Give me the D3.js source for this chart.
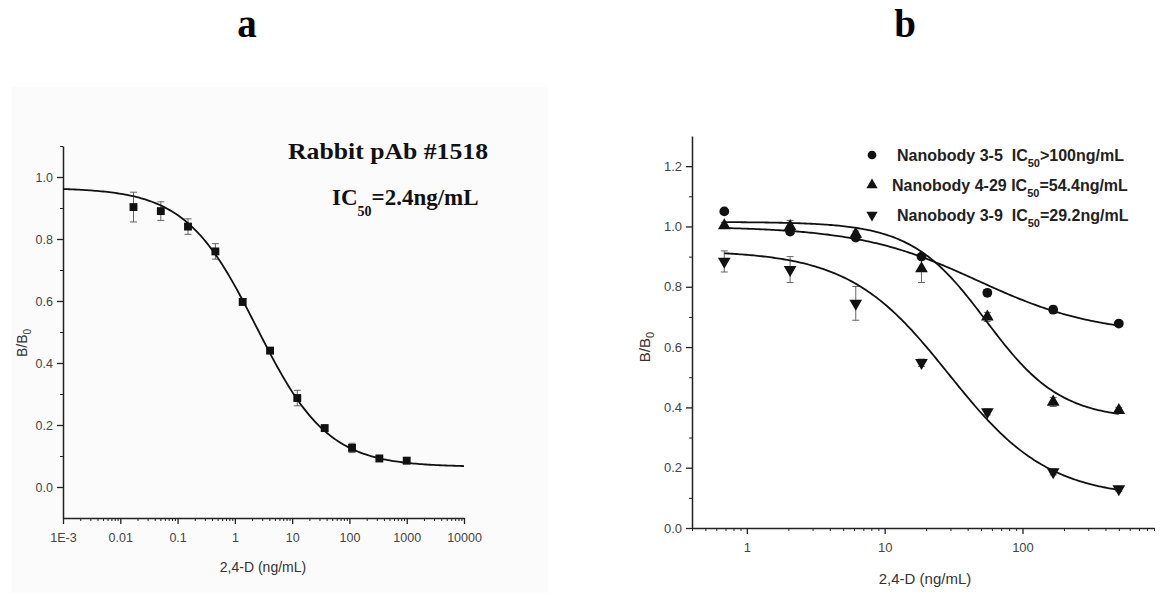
<!DOCTYPE html>
<html lang="en">
<head>
<meta charset="UTF-8">
<title>2,4-D competitive ELISA curves</title>
<script src="https://d3js.org/d3.v7.min.js"></script>
<style>
  body { margin: 0; background: #fff; }
  svg { display: block; }
  .tick text { font-family: "Liberation Sans", Arial, sans-serif; fill: #444; }
  .domain, .tick line { stroke: #222; }
</style>
</head>
<body>
<script>
// ---- panel a: rabbit pAb #1518 ----
const concA = [0.017, 0.051, 0.152, 0.457, 1.37, 4.12, 12.3, 37, 111, 333, 1000];
const valA  = [0.903, 0.89, 0.84, 0.76, 0.597, 0.44, 0.287, 0.19, 0.126, 0.092, 0.085];
const errA  = [0.048, 0.03, 0.025, 0.025, 0.01, 0.01, 0.025, 0.01, 0.015, 0.01, 0.01];
// 4PL fit: top, bottom, IC50, hill
const fitA  = [0.965, 0.065, 2.4, 0.7];
const xTicksA = [1e-3, 0.01, 0.1, 1, 10, 100, 1000, 10000];
const xLabelsA = ["1E-3", "0.01", "0.1", "1", "10", "100", "1000", "10000"];
const yTicksA = [0, 0.2, 0.4, 0.6, 0.8, 1.0];

// ---- panel b: nanobodies ----
const concB  = [0.686, 2.06, 6.17, 18.5, 55.6, 167, 500];
const nb35   = [1.05, 0.983, 0.963, 0.90, 0.78, 0.724, 0.678];
const nb35e  = [0.005, 0.01, 0.01, 0.01, 0.01, 0.012, 0.008];
const nb429  = [1.003, 1.0, 0.975, 0.86, 0.70, 0.418, 0.39];
const nb429e = [0.01, 0.02, 0.01, 0.046, 0.015, 0.015, 0.01];
const nb39   = [0.884, 0.857, 0.745, 0.548, 0.385, 0.186, 0.13];
const nb39e  = [0.035, 0.043, 0.056, 0.012, 0.01, 0.01, 0.008];
const fit35  = [1.0, 0.64, 47.5, 1.0];
const fit429 = [1.015, 0.36, 54.4, 1.6];
const fit39  = [0.92, 0.1, 29.2, 1.2];
const namesB = ["Nanobody 3-5  ", "Nanobody 4-29 ", "Nanobody 3-9  "];
const icB    = [">100ng/mL", "=54.4ng/mL", "=29.2ng/mL"];
const xTicksB = [1, 10, 100];
const yTicksB = [0, 0.2, 0.4, 0.6, 0.8, 1.0, 1.2];

const W = 1160, H = 595;
const svg = d3.select("body").append("svg").attr("width", W).attr("height", H);

// faint backdrop of panel a (scanned figure)
svg.append("rect").attr("x", 11).attr("y", 87).attr("width", 537).attr("height", 506).attr("fill", "#fbfbfb");

const logistic = p => x => p[1] + (p[0] - p[1]) / (1 + Math.pow(x / p[2], p[3]));

function minorLog(lo, hi) {
  const out = [];
  for (let e = Math.floor(Math.log10(lo)); e <= Math.ceil(Math.log10(hi)); e++) {
    for (let m = 2; m <= 9; m++) {
      const v = m * Math.pow(10, e);
      if (v >= lo * 0.999 && v <= hi * 1.001) out.push(v);
    }
  }
  return out;
}

function drawAxes(g, x, y, xMajor, xFmt, yMajor, yMinor, fs) {
  const [x0, x1] = x.range();
  const yBase = y.range()[0];
  // minor ticks first
  g.append("g").attr("transform", `translate(0,${yBase})`)
    .call(d3.axisBottom(x).tickValues(minorLog(...x.domain())).tickFormat("").tickSize(3).tickSizeOuter(0))
    .call(a => a.select(".domain").remove());
  g.append("g").attr("transform", `translate(${x0},0)`)
    .call(d3.axisLeft(y).tickValues(yMinor).tickFormat("").tickSize(3).tickSizeOuter(0))
    .call(a => a.select(".domain").remove());
  const xa = g.append("g").attr("transform", `translate(0,${yBase})`)
    .call(d3.axisBottom(x).tickValues(xMajor).tickFormat(xFmt).tickSize(6).tickSizeOuter(0).tickPadding(9));
  const ya = g.append("g").attr("transform", `translate(${x0},0)`)
    .call(d3.axisLeft(y).tickValues(yMajor).tickFormat(d3.format(".1f")).tickSize(6).tickSizeOuter(0).tickPadding(4));
  [xa, ya].forEach(a => {
    a.selectAll(".tick text").style("font-size", fs + "px");
    a.selectAll("line").attr("stroke-width", 1.3);
    a.select(".domain").attr("stroke-width", 1.5);
  });
}

function errorBars(g, x, y, cs, vs, es) {
  cs.forEach((c, i) => {
    const cx = x(c), top = y(vs[i] + es[i]), bot = y(vs[i] - es[i]);
    g.append("line").attr("x1", cx).attr("x2", cx).attr("y1", top).attr("y2", bot)
      .attr("stroke", "#555").attr("stroke-width", 0.9);
    [top, bot].forEach(yy => g.append("line").attr("x1", cx - 3.5).attr("x2", cx + 3.5)
      .attr("y1", yy).attr("y2", yy).attr("stroke", "#555").attr("stroke-width", 0.9));
  });
}

function curve(g, x, y, p, lo, hi) {
  const f = logistic(p);
  const pts = d3.range(0, 201).map(i => {
    const c = Math.pow(10, Math.log10(lo) + (Math.log10(hi) - Math.log10(lo)) * i / 200);
    return [x(c), y(f(c))];
  });
  g.append("path").attr("d", d3.line()(pts)).attr("fill", "none")
    .attr("stroke", "#111").attr("stroke-width", 1.8);
}

function markers(g, x, y, cs, vs, type, size, rot) {
  const sym = d3.symbol().type(type).size(size);
  cs.forEach((c, i) => {
    g.append("path").attr("d", sym())
      .attr("transform", `translate(${x(c)},${y(vs[i])}) rotate(${rot || 0})`)
      .attr("fill", "#111");
  });
}

// ---------- panel a ----------
const xA = d3.scaleLog().domain([1e-3, 1e4]).range([63, 464]);
const yA = d3.scaleLinear().domain([-0.1, 1.1]).range([518, 146]);
const gA = svg.append("g");
drawAxes(gA, xA, yA, xTicksA, (d, i) => xLabelsA[i], yTicksA, [0.1, 0.3, 0.5, 0.7, 0.9, 1.1], 12.5);
errorBars(gA, xA, yA, concA, valA, errA);
curve(gA, xA, yA, fitA, 1e-3, 1e4);
markers(gA, xA, yA, concA, valA, d3.symbolSquare, 62);

gA.append("text").attr("x", 263).attr("y", 572).attr("text-anchor", "middle")
  .style("font", "14px 'Liberation Sans', Arial, sans-serif").attr("fill", "#333").text("2,4-D (ng/mL)");
const ylA = gA.append("text").attr("transform", "translate(27,343) rotate(-90)").attr("text-anchor", "middle")
  .style("font", "14px 'Liberation Sans', Arial, sans-serif").attr("fill", "#333");
ylA.append("tspan").text("B/B");
ylA.append("tspan").attr("dy", 4).style("font-size", "10px").text("0");

const serif = "'Liberation Serif', 'Times New Roman', serif";
gA.append("text").attr("x", 288).attr("y", 159).attr("textLength", 200).attr("lengthAdjust", "spacingAndGlyphs")
  .style("font", `bold 23px ${serif}`).attr("fill", "#111").text("Rabbit pAb #1518");
const icA = gA.append("text").attr("x", 332).attr("y", 205)
  .style("font", `bold 23px ${serif}`).attr("fill", "#111");
icA.append("tspan").text("IC");
icA.append("tspan").attr("dy", 11).style("font-size", "14px").text("50");
icA.append("tspan").attr("dy", -11).text("=2.4ng/mL");

// ---------- panel b ----------
const xB = d3.scaleLog().domain([0.4, 900]).range([692, 1154]);
const yB = d3.scaleLinear().domain([0, 1.3]).range([528, 136]);
const gB = svg.append("g");
drawAxes(gB, xB, yB, xTicksB, d3.format("d"), yTicksB, [0.1, 0.3, 0.5, 0.7, 0.9, 1.1], 13);
errorBars(gB, xB, yB, concB, nb35, nb35e);
errorBars(gB, xB, yB, concB, nb429, nb429e);
errorBars(gB, xB, yB, concB, nb39, nb39e);
curve(gB, xB, yB, fit35, concB[0], concB[6]);
curve(gB, xB, yB, fit429, concB[0], concB[6]);
curve(gB, xB, yB, fit39, concB[0], concB[6]);
markers(gB, xB, yB, concB, nb35, d3.symbolCircle, 75);
markers(gB, xB, yB, concB, nb429, d3.symbolTriangle, 70);
markers(gB, xB, yB, concB, nb39, d3.symbolTriangle, 70, 180);

gB.append("text").attr("x", 925).attr("y", 584).attr("text-anchor", "middle")
  .style("font", "15px 'Liberation Sans', Arial, sans-serif").attr("fill", "#333").text("2,4-D (ng/mL)");
const ylB = gB.append("text").attr("transform", "translate(650,347) rotate(-90)").attr("text-anchor", "middle")
  .style("font", "15px 'Liberation Sans', Arial, sans-serif").attr("fill", "#333");
ylB.append("tspan").text("B/B");
ylB.append("tspan").attr("dy", 4).style("font-size", "11px").text("0");

// legend
const legSyms = [[d3.symbolCircle, 60, 0], [d3.symbolTriangle, 55, 0], [d3.symbolTriangle, 55, 180]];
const legX = [897, 892, 897];
namesB.forEach((n, i) => {
  const yy = 155 + i * 30;
  gB.append("path").attr("d", d3.symbol().type(legSyms[i][0]).size(legSyms[i][1])())
    .attr("transform", `translate(872,${yy}) rotate(${legSyms[i][2]})`).attr("fill", "#111");
  const t = gB.append("text").attr("x", legX[i]).attr("y", yy + 6).attr("xml:space", "preserve")
    .style("font", "bold 16px 'Liberation Sans', Arial, sans-serif").attr("fill", "#222");
  t.append("tspan").text(n + "IC");
  t.append("tspan").attr("dy", 6).style("font-size", "11px").text("50");
  t.append("tspan").attr("dy", -6).text(icB[i]);
});

// panel letters
svg.append("text").attr("x", 247).attr("y", 37).attr("text-anchor", "middle")
  .style("font", `bold 39px ${serif}`).attr("fill", "#000").text("a");
svg.append("text").attr("x", 905).attr("y", 37).attr("text-anchor", "middle")
  .style("font", `bold 39px ${serif}`).attr("fill", "#000").text("b");
</script>
</body>
</html>
